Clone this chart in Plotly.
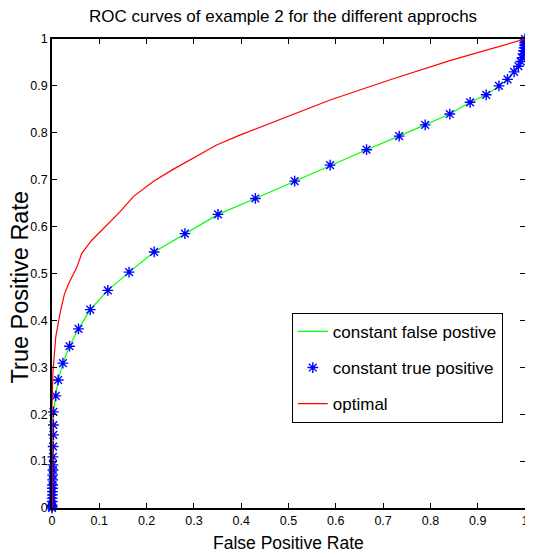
import plotly.graph_objects as go

# constant true positive (blue stars) / constant false positive (green line)
ctp_fpr = [0, 0, 0, 0.0005, 0.0005, 0.0008, 0.001, 0.001, 0.0012, 0.0015,
           0.0015, 0.002, 0.002, 0.002, 0.0025, 0.003, 0.003, 0.003, 0.008,
           0.013, 0.023, 0.037, 0.056, 0.081, 0.118, 0.163, 0.216, 0.281,
           0.351, 0.430, 0.513, 0.588, 0.665, 0.734, 0.789, 0.841, 0.884,
           0.918, 0.945, 0.963, 0.977, 0.986, 0.991, 0.994, 0.996, 0.997,
           0.998, 0.999, 0.9995, 1.0, 1.0]
ctp_tpr = [0, 0.003, 0.006, 0.014, 0.021, 0.028, 0.035, 0.042, 0.049, 0.060,
           0.070, 0.081, 0.092, 0.109, 0.131, 0.156, 0.177, 0.205, 0.239,
           0.273, 0.309, 0.345, 0.382, 0.423, 0.464, 0.503, 0.546, 0.585,
           0.626, 0.660, 0.697, 0.731, 0.764, 0.793, 0.817, 0.840, 0.865,
           0.881, 0.900, 0.914, 0.930, 0.942, 0.952, 0.960, 0.968, 0.975,
           0.981, 0.987, 0.992, 0.996, 1.0]

# optimal (red line)
opt_fpr = [0, 0, 0.002, 0.008, 0.017, 0.026, 0.035, 0.052, 0.063, 0.084,
           0.101, 0.116, 0.144, 0.172, 0.214, 0.256, 0.299, 0.348, 0.397,
           0.461, 0.503, 0.588, 0.715, 0.841, 1.0]
opt_tpr = [0, 0.22, 0.29, 0.365, 0.415, 0.455, 0.478, 0.512, 0.543, 0.571,
           0.588, 0.603, 0.632, 0.664, 0.696, 0.722, 0.746, 0.774, 0.795,
           0.820, 0.836, 0.870, 0.913, 0.954, 1.0]

tick_vals = [0, 0.1, 0.2, 0.3, 0.4, 0.5, 0.6, 0.7, 0.8, 0.9, 1]
tick_text = ["0", "0.1", "0.2", "0.3", "0.4", "0.5", "0.6", "0.7", "0.8", "0.9", "1"]

FONT = "Liberation Sans, Arial, sans-serif"

fig = go.Figure()

fig.add_trace(go.Scatter(
    x=ctp_fpr, y=ctp_tpr, mode="lines", name="constant false postive",
    line=dict(color="#00ff00", width=1.2), legendgroup="a",
))
fig.add_trace(go.Scatter(
    x=ctp_fpr, y=ctp_tpr, mode="markers", name="constant true positive",
    marker=dict(symbol="asterisk-open", size=9, color="blue",
                line=dict(color="blue", width=1.4)),
    cliponaxis=False, legendgroup="b",
))
fig.add_trace(go.Scatter(
    x=opt_fpr, y=opt_tpr, mode="lines", name="optimal",
    line=dict(color="red", width=1.2), legendgroup="c",
))

axis_style = dict(
    range=[0, 1], tickvals=tick_vals, ticktext=tick_text,
    showgrid=False, zeroline=False, automargin=False,
    showline=True, linecolor="black", linewidth=1.5, mirror="ticks",
    ticks="inside", ticklen=5, tickcolor="black", tickwidth=1,
    tickfont=dict(family=FONT, size=12.5, color="black"),
)
fig.update_xaxes(**axis_style)
fig.update_yaxes(**axis_style)

# axis titles placed as annotations, like the MATLAB figure
fig.add_annotation(text="False Positive Rate", xref="paper", yref="paper",
                   x=0.5, y=-0.074, xanchor="center", yanchor="middle",
                   showarrow=False, font=dict(family=FONT, size=17.5, color="black"))
fig.add_annotation(text="True Positive Rate", xref="paper", yref="paper",
                   x=-0.068, y=0.47, xanchor="center", yanchor="middle",
                   textangle=-90, showarrow=False,
                   font=dict(family=FONT, size=23.5, color="black"))

# the page body adds an 8px margin, so the figure is 8px smaller than the window
fig.update_layout(
    width=525, height=549,
    paper_bgcolor="white", plot_bgcolor="white",
    margin=dict(l=44, r=8, t=31, b=49),
    title=dict(text="ROC curves of example 2 for the different approchs",
               font=dict(family=FONT, size=17, color="black"),
               x=0.524, xanchor="center", y=0.985, yanchor="middle"),
    legend=dict(x=0.507, y=0.416, xanchor="left", yanchor="top",
                bgcolor="white", bordercolor="black", borderwidth=1,
                font=dict(family=FONT, size=17, color="black"),
                tracegroupgap=11, itemwidth=30),
    showlegend=True,
)

fig.write_html("out.html")
